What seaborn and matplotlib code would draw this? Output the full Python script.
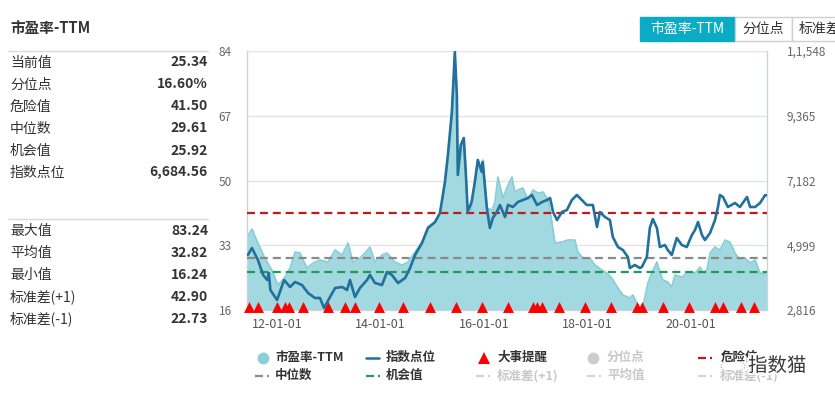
import numpy as np
import pandas as pd
import matplotlib
matplotlib.use('Agg')
import matplotlib.pyplot as plt
import matplotlib.dates as mdates
import matplotlib.transforms as mtransforms
import matplotlib.patheffects as pe
from matplotlib.lines import Line2D
from matplotlib.patches import Rectangle, Circle
import seaborn as sns

# ---- data ----
pe_dates = ['2011-06-05', '2011-07-08', '2011-08-19', '2011-10-07', '2011-11-25', '2012-01-08',
            '2012-02-26', '2012-04-02', '2012-05-07', '2012-06-11', '2012-07-31', '2012-09-11',
            '2012-10-30', '2012-12-26', '2013-02-14', '2013-04-04', '2013-05-16', '2013-06-20',
            '2013-08-08', '2013-09-13', '2013-10-18', '2013-11-22', '2014-01-11', '2014-02-15',
            '2014-04-12', '2014-06-01', '2014-07-13', '2014-09-01', '2014-10-20', '2014-12-01',
            '2015-01-20', '2015-02-24', '2015-03-31', '2015-04-21', '2015-05-19', '2015-06-09',
            '2015-06-23', '2015-06-30', '2015-07-21', '2015-08-11', '2015-08-25', '2015-09-08',
            '2015-09-29', '2015-10-28', '2015-11-18', '2015-12-16', '2015-12-23', '2016-01-21',
            '2016-02-26', '2016-03-18', '2016-04-08', '2016-05-13', '2016-06-18', '2016-07-16',
            '2016-08-06', '2016-08-27', '2016-10-02', '2016-11-06', '2016-12-11', '2017-01-16',
            '2017-02-21', '2017-03-28', '2017-04-25', '2017-05-16', '2017-07-04', '2017-08-15',
            '2017-10-03', '2017-10-24', '2017-11-28', '2018-01-17', '2018-02-22', '2018-04-12',
            '2018-05-17', '2018-06-21', '2018-08-03', '2018-09-07', '2018-10-26', '2018-11-16',
            '2018-12-14', '2019-01-05', '2019-01-26', '2019-03-02', '2019-03-30', '2019-05-05',
            '2019-05-26', '2019-06-16', '2019-07-21', '2019-08-18', '2019-09-09', '2019-10-28',
            '2019-12-10', '2020-01-29', '2020-03-04', '2020-03-25', '2020-04-22', '2020-05-14',
            '2020-06-18', '2020-07-23', '2020-08-28', '2020-10-02', '2020-11-06', '2020-12-11',
            '2021-01-16', '2021-02-21', '2021-03-28', '2021-05-02', '2021-06-20']
pe_values = [35.25, 37.27, 33.59, 29.65, 26.50, 22.56,
             24.66, 27.03, 31.23, 30.97, 27.03, 28.34,
             29.13, 28.60, 31.75, 30.44, 33.59, 28.60,
             29.65, 30.97, 32.54, 28.60, 30.44, 30.97,
             28.60, 27.81, 28.60, 31.23, 33.85, 37.79,
             39.10, 41.47, 49.61, 56.70, 67.99, 83.24,
             72.45, 51.45, 59.32, 61.16, 52.23, 41.73,
             41.47, 49.61, 55.38, 52.23, 55.38, 42.78,
             42.25, 44.36, 50.92, 45.41, 48.82, 50.92,
             46.98, 47.51, 48.03, 44.88, 47.51, 46.72,
             46.98, 44.88, 38.84, 33.59, 33.85, 34.38,
             34.38, 31.23, 29.65, 29.65, 27.81, 26.50,
             25.71, 24.40, 21.78, 19.94, 19.15, 19.94,
             17.84, 16.24, 16.79, 23.09, 25.71, 28.60,
             25.98, 23.88, 23.35, 22.04, 25.19, 24.66,
             25.98, 25.71, 27.29, 25.71, 26.50, 30.97,
             32.54, 31.75, 34.38, 33.85, 30.97, 29.13,
             29.65, 28.34, 29.13, 25.71, 25.34]

idx_dates = ['2011-06-09', '2011-07-08', '2011-08-19', '2011-09-25', '2011-10-24', '2011-11-04',
             '2011-11-15', '2012-01-01', '2012-01-26', '2012-02-20', '2012-04-02', '2012-05-07',
             '2012-06-25', '2012-08-07', '2012-09-25', '2012-10-30', '2012-11-28', '2013-01-09',
             '2013-02-14', '2013-04-04', '2013-05-09', '2013-05-30', '2013-07-04', '2013-08-08',
             '2013-09-27', '2013-10-18', '2013-11-22', '2014-01-11', '2014-02-15', '2014-03-22',
             '2014-05-04', '2014-06-23', '2014-07-28', '2014-09-01', '2014-10-20', '2014-12-01',
             '2015-01-20', '2015-02-24', '2015-03-31', '2015-04-21', '2015-05-19', '2015-06-09',
             '2015-06-23', '2015-06-30', '2015-07-21', '2015-08-11', '2015-08-25', '2015-09-08',
             '2015-10-05', '2015-10-28', '2015-11-18', '2015-12-16', '2015-12-23', '2016-01-21',
             '2016-02-11', '2016-03-03', '2016-03-31', '2016-04-22', '2016-05-28', '2016-06-18',
             '2016-07-23', '2016-08-27', '2016-10-02', '2016-11-06', '2016-12-04', '2017-01-09',
             '2017-02-14', '2017-03-21', '2017-04-11', '2017-05-02', '2017-05-30', '2017-07-04',
             '2017-08-08', '2017-09-12', '2017-10-17', '2017-11-21', '2017-12-26', '2018-02-07',
             '2018-03-08', '2018-03-29', '2018-05-03', '2018-06-07', '2018-06-28', '2018-08-03',
             '2018-09-07', '2018-10-12', '2018-10-26', '2018-11-30', '2019-01-05', '2019-01-19',
             '2019-02-23', '2019-03-16', '2019-04-06', '2019-05-05', '2019-05-26', '2019-06-30',
             '2019-07-21', '2019-08-18', '2019-09-22', '2019-10-28', '2019-12-02', '2020-01-07',
             '2020-01-29', '2020-02-19', '2020-03-18', '2020-04-08', '2020-05-14', '2020-06-18',
             '2020-07-09', '2020-07-23', '2020-08-13', '2020-09-17', '2020-11-06', '2020-12-11',
             '2021-01-30', '2021-02-21', '2021-03-28', '2021-05-02', '2021-06-06', '2021-06-20']
idx_values = [4670, 4906, 4502, 3996, 3827, 4063,
              3490, 3153, 3490, 3827, 3591, 3760,
              3659, 3389, 3221, 3221, 2883, 3254,
              3558, 3591, 3490, 3827, 3254, 3558,
              3827, 3996, 3726, 3659, 4097, 3996,
              3726, 3895, 4232, 4670, 5075, 5581,
              5783, 6086, 7131, 8042, 9491, 11514,
              10065, 7367, 8379, 8615, 7469, 6120,
              6457, 7131, 7873, 7469, 7806, 6255,
              5581, 5918, 6120, 6356, 5951, 6356,
              6289, 6457, 6525, 6592, 6693, 6356,
              6457, 6525, 6592, 6120, 5850, 6120,
              6187, 6525, 6693, 6525, 6356, 6356,
              5614, 6120, 5951, 5850, 5277, 4940,
              4839, 4603, 4232, 4333, 4232, 4266,
              4603, 5581, 5884, 5581, 4940, 5007,
              4839, 4670, 5243, 5007, 4940, 5345,
              5513, 5783, 5345, 5176, 5412, 5850,
              6289, 6693, 6626, 6289, 6424, 6289,
              6626, 6289, 6289, 6424, 6685, 6684.56]

event_dates = ['2011-06-19', '2011-08-21', '2011-12-30', '2012-02-26', '2012-03-27', '2012-06-30',
               '2012-12-28', '2013-04-25', '2013-07-04', '2013-12-21', '2014-06-10', '2014-12-15',
               '2015-06-16', '2015-12-15', '2016-06-16', '2016-12-13', '2017-01-11', '2017-02-11',
               '2017-06-13', '2017-12-13', '2018-06-13', '2018-12-13', '2019-01-17', '2019-06-18',
               '2019-12-17', '2020-06-18', '2020-08-15', '2020-12-16', '2021-03-20']

danger_value = 41.50
median_value = 29.61
chance_value = 25.92

pe_ticks = [16, 33, 50, 67, 84]
idx_ticks = [2816, 4999, 7182, 9365, 11548]
idx_tick_labels = ['2,816', '4,999', '7,182', '9,365', '1,1,548']
x_tick_dates = ['2012-01-01', '2014-01-01', '2016-01-01', '2018-01-01', '2020-01-01']
x_range = ['2011-06-03', '2021-06-20']

top_labels = ['当前值', '分位点', '危险值', '中位数', '机会值', '指数点位']
top_values = ['25.34', '16.60%', '41.50', '29.61', '25.92', '6,684.56']
bottom_labels = ['最大值', '平均值', '最小值', '标准差(+1)', '标准差(-1)']
bottom_values = ['83.24', '32.82', '16.24', '42.90', '22.73']

tab_labels = ['市盈率-TTM', '分位点', '标准差']

# ---- style ----
sns.set_style('white')
plt.rcParams['font.family'] = ['Noto Sans CJK SC', 'DejaVu Sans']

FILL = '#A2D8DF'
EDGE = '#86CED8'
BLUE = '#22709C'
RED = '#C01B1B'
GREY = '#8A8A8A'
GREEN = '#1E9B55'
TEAL = '#0AACC5'
TXT = '#333333'
FADED = '#C8C8C8'

W, H = 835, 399
fig = plt.figure(figsize=(W / 100, H / 100), dpi=100)


def fx(x):
    return x / W


def fy(y):
    return 1 - y / H


pe_df = pd.DataFrame({'date': pd.to_datetime(pe_dates), 'pe': pe_values})
idx_df = pd.DataFrame({'date': pd.to_datetime(idx_dates), 'idx': idx_values})
xlim = pd.to_datetime(x_range)

ax = fig.add_axes([fx(247), fy(310), (767 - 247) / W, (310 - 51) / H])
ax.set_ylim(pe_ticks[0], pe_ticks[-1])
ax.set_xlim(xlim[0], xlim[1])

ax.fill_between(pe_df['date'], pe_ticks[0], pe_df['pe'], color=FILL, lw=0, zorder=1)
sns.lineplot(data=pe_df, x='date', y='pe', color=EDGE, lw=1.2, ax=ax, zorder=2)

dash = (0, (3.6, 2.2))
ax.axhline(danger_value, color=RED, lw=1.6, ls=dash, zorder=3)
ax.axhline(median_value, color=GREY, lw=1.6, ls=dash, zorder=3)
ax.axhline(chance_value, color=GREEN, lw=1.6, ls=dash, zorder=3)

ax.set_yticks(pe_ticks)
ax.grid(axis='y', color='#E3E3E3', lw=1)
ax.grid(axis='x', visible=False)
ax.set_xticks(pd.to_datetime(x_tick_dates))
ax.xaxis.set_major_formatter(mdates.DateFormatter('%y-%m-%d'))
ax.tick_params(axis='y', length=0, pad=11, labelsize=8.5, labelcolor='#666666')
ax.tick_params(axis='x', length=4, width=1, color='#C8D3DE', pad=2, labelsize=9, labelcolor='#555555')
ax.set_xlabel('')
ax.set_ylabel('')
for s in ['left', 'right', 'bottom']:
    ax.spines[s].set_color('#C8D3DE')
    ax.spines[s].set_linewidth(1)
ax.spines['top'].set_visible(False)

ax2 = ax.twinx()
sns.lineplot(data=idx_df, x='date', y='idx', color=BLUE, lw=1.9, ax=ax2, zorder=4)
ax2.set_ylim(idx_ticks[0], idx_ticks[-1])
ax2.set_xlim(xlim[0], xlim[1])
ax2.set_yticks(idx_ticks)
ax2.set_yticklabels(idx_tick_labels)
ax2.tick_params(axis='y', length=0, pad=14, labelsize=8.5, labelcolor='#666666')
ax2.set_ylabel('')
ax2.set_xlabel('')
for s in ['top', 'left', 'bottom', 'right']:
    ax2.spines[s].set_visible(False)

# event markers sit on the bottom edge
ev = pd.DataFrame({'date': pd.to_datetime(event_dates)})
ev['y'] = ax2.get_ylim()[0]
lift = ax2.transData + mtransforms.ScaledTranslation(0, 3 / 100, fig.dpi_scale_trans)
sns.scatterplot(data=ev, x='date', y='y', marker='^', color='#FF0000', s=62, linewidth=0,
                ax=ax2, clip_on=False, zorder=6, transform=lift, legend=False)
ax2.set_xlabel('')
ax2.set_ylabel('')

# ---- left statistics panel ----
fig.text(fx(10), fy(28), '市盈率-TTM', fontsize=10.5, fontweight='bold', color=TXT, va='center')
for yy in [51, 219]:
    fig.add_artist(Line2D([fx(8), fx(208)], [fy(yy), fy(yy)], color='#DADADA', lw=1))
for i, (lab, val) in enumerate(zip(top_labels, top_values)):
    y = 62.5 + i * 22
    fig.text(fx(10), fy(y), lab, fontsize=10, color=TXT, va='center')
    fig.text(fx(208), fy(y), val, fontsize=10, color=TXT, fontweight='bold', va='center', ha='right')
for i, (lab, val) in enumerate(zip(bottom_labels, bottom_values)):
    y = 231 + i * 22
    fig.text(fx(10), fy(y), lab, fontsize=10, color=TXT, va='center')
    fig.text(fx(208), fy(y), val, fontsize=10, color=TXT, fontweight='bold', va='center', ha='right')

# ---- tabs top right ----
fig.add_artist(Rectangle((fx(640), fy(41)), 95 / W, 24 / H, fc=TEAL, ec=TEAL, lw=1))
fig.add_artist(Rectangle((fx(735), fy(41)), 57 / W, 24 / H, fc='white', ec='#CFCFCF', lw=1))
fig.add_artist(Rectangle((fx(792), fy(41)), 60 / W, 24 / H, fc='white', ec='#CFCFCF', lw=1))
fig.text(fx(687), fy(29), tab_labels[0], fontsize=10, color='white', ha='center', va='center')
fig.text(fx(763), fy(29), tab_labels[1], fontsize=10, color=TXT, ha='center', va='center')
fig.text(fx(799), fy(29), tab_labels[2], fontsize=10, color=TXT, ha='left', va='center')

# ---- legend ----
r1, r2 = 357.5, 375.5
lfs = 9


def ltext(x, y, s, c=TXT):
    fig.text(fx(x), fy(y), s, fontsize=lfs, fontweight='bold', color=c, va='center')


def dashdot(x, y, c):
    fig.add_artist(Line2D([fx(x), fx(x + 8)], [fy(y), fy(y)], color=c, lw=1.6, solid_capstyle='butt'))
    fig.add_artist(Line2D([fx(x + 12), fx(x + 14)], [fy(y), fy(y)], color=c, lw=1.6, solid_capstyle='butt'))


fig.add_artist(Line2D([fx(262.5)], [fy(r1)], marker='o', ms=8.5, color='#8BCFD9', mew=0))
ltext(275, r1, '市盈率-TTM')
fig.add_artist(Line2D([fx(366), fx(379)], [fy(r1), fy(r1)], color=BLUE, lw=1.8))
ltext(386, r1, '指数点位')
fig.add_artist(Line2D([fx(484)], [fy(r1)], marker='^', ms=8, color='#FF0000', mew=0))
ltext(497, r1, '大事提醒')
fig.add_artist(Line2D([fx(593)], [fy(r1)], marker='o', ms=8.5, color='#CCCCCC', mew=0))
ltext(607, r1, '分位点', FADED)
dashdot(698, r1, RED)
ltext(721, r1, '危险值')

dashdot(255, r2, GREY)
ltext(275, r2, '中位数')
dashdot(366, r2, GREEN)
ltext(386, r2, '机会值')
dashdot(476, r2, '#D5D5D5')
ltext(497, r2, '标准差(+1)', FADED)
dashdot(587, r2, '#D5D5D5')
ltext(607, r2, '平均值', FADED)
dashdot(698, r2, '#D5D5D5')
ltext(720, r2, '标准差(-1)', FADED)

# watermark
fig.add_artist(Circle((fx(733), fy(366)), 12 / W, fc='white', ec='#9A9A9A', lw=0.8, ls=':', alpha=0.9,
                      transform=fig.transFigure))
fig.text(fx(748), fy(366), '指数猫', fontsize=14, color='#3A3A3A', va='center',
         path_effects=[pe.withStroke(linewidth=3, foreground='white')])

fig.savefig('out.png', dpi=100)
